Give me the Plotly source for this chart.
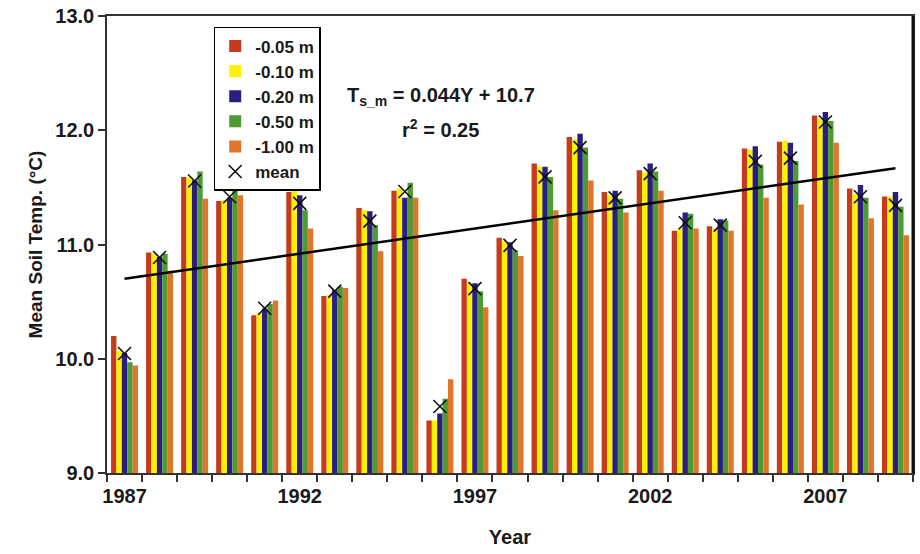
import plotly.graph_objects as go

years = list(range(1987, 2010))

depth_names = ["-0.05 m", "-0.10 m", "-0.20 m", "-0.50 m", "-1.00 m"]

t_005 = [10.20, 10.93, 11.59, 11.38, 10.38, 11.46, 10.55, 11.32, 11.47, 9.46, 10.70, 11.06,
         11.71, 11.94, 11.46, 11.65, 11.12, 11.16, 11.84, 11.90, 12.13, 11.49, 11.42]
t_010 = [10.07, 10.92, 11.59, 11.39, 10.40, 11.47, 10.56, 11.30, 11.49, 9.46, 10.67, 11.03,
         11.68, 11.92, 11.43, 11.63, 11.14, 11.14, 11.83, 11.91, 12.10, 11.44, 11.42]
t_020 = [10.05, 10.89, 11.56, 11.41, 10.44, 11.43, 10.60, 11.29, 11.41, 9.52, 10.66, 11.02,
         11.68, 11.97, 11.47, 11.71, 11.28, 11.22, 11.86, 11.89, 12.16, 11.52, 11.46]
t_050 = [9.97, 10.92, 11.64, 11.48, 10.48, 11.30, 10.63, 11.17, 11.54, 9.65, 10.59, 10.95,
         11.59, 11.85, 11.40, 11.64, 11.27, 11.21, 11.70, 11.73, 12.08, 11.41, 11.33]
t_100 = [9.94, 10.77, 11.40, 11.43, 10.51, 11.14, 10.62, 10.94, 11.41, 9.82, 10.45, 10.90,
         11.30, 11.56, 11.28, 11.47, 11.14, 11.12, 11.41, 11.35, 11.89, 11.23, 11.08]

series = [t_005, t_010, t_020, t_050, t_100]
colors = ["#C53B1C", "#FFF200", "#2A1E82", "#4F9B33", "#E0752C"]

# annual mean over the five depths
mean_t = [sum(v) / len(v) for v in zip(*series)]

# linear trend stated in the annotation: T = slope * Y + intercept, Y = years since 1987
slope = 0.044
intercept = 10.7
trend_x = [years[0], years[-1]]
trend_y = [intercept + slope * (y - years[0]) for y in trend_x]

FONT = "Liberation Sans"
INK = "#1a1a1a"

fig = go.Figure()

for i, (name, vals, col) in enumerate(zip(depth_names, series, colors)):
    fig.add_trace(go.Bar(
        x=years, y=vals, name=name,
        marker=dict(color=col, line=dict(width=0)),
        legendgroup=f"g{i}",
    ))

fig.add_trace(go.Scatter(
    x=years, y=mean_t, mode="markers", name="mean",
    marker=dict(symbol="x-thin", size=13, color="black",
                line=dict(color="#111111", width=1.6)),
    legendgroup="g5",
))

fig.add_trace(go.Scatter(
    x=trend_x, y=trend_y, mode="lines", showlegend=False,
    line=dict(color="black", width=2.5),
))

fig.update_layout(
    width=920, height=554,
    margin=dict(l=107, r=5, t=15, b=81),
    paper_bgcolor="white", plot_bgcolor="white",
    barmode="group", bargap=0.23, bargroupgap=0,
    font=dict(family=FONT, size=18, color=INK),
    showlegend=True,
    legend=dict(
        x=0.1324, y=0.976, xanchor="left", yanchor="top",
        bgcolor="white", bordercolor="black", borderwidth=1.5,
        font=dict(family=FONT, size=17, color=INK, weight="bold"),
        tracegroupgap=0, itemwidth=30,
    ),
    xaxis=dict(
        range=[1986.5, 2009.5],
        tickvals=[1987, 1992, 1997, 2002, 2007],
        ticks="", showgrid=False, zeroline=False,
        showline=True, linecolor="#333333", linewidth=1.5, mirror=True,
        tickfont=dict(family=FONT, size=20, weight="bold", color=INK),
        ticklabelstandoff=4,
        minor=dict(ticks="outside", tick0=1986.5, dtick=1, ticklen=7,
                   tickcolor="#333333", tickwidth=1.5, showgrid=False),
        title=dict(text="Year", font=dict(family=FONT, size=20, weight="bold", color=INK),
                   standoff=24),
    ),
    yaxis=dict(
        range=[9, 13], tick0=9, dtick=1, tickformat=".1f",
        ticks="outside", ticklen=7, tickcolor="#333333", tickwidth=1.5,
        showgrid=False, zeroline=False,
        showline=True, linecolor="#333333", linewidth=1.5, mirror=True,
        tickfont=dict(family=FONT, size=20, weight="bold", color=INK),
        title=dict(text="Mean Soil Temp. (°C)",
                   font=dict(family=FONT, size=19, weight="bold", color=INK), standoff=8),
    ),
)

# heavier right frame edge
fig.add_shape(type="line", xref="paper", yref="paper", x0=1, x1=1, y0=0, y1=1,
              line=dict(color="#111111", width=3))

fig.add_annotation(
    xref="paper", yref="paper", x=0.414, y=0.823, xanchor="center", yanchor="middle",
    text="T<sub>s_m</sub> = 0.044Y + 10.7", showarrow=False,
    font=dict(family=FONT, size=20, weight="bold", color=INK),
)
fig.add_annotation(
    xref="paper", yref="paper", x=0.414, y=0.753, xanchor="center", yanchor="middle",
    text="r<sup>2</sup> = 0.25", showarrow=False,
    font=dict(family=FONT, size=20, weight="bold", color=INK),
)

fig.write_html("out.html")
